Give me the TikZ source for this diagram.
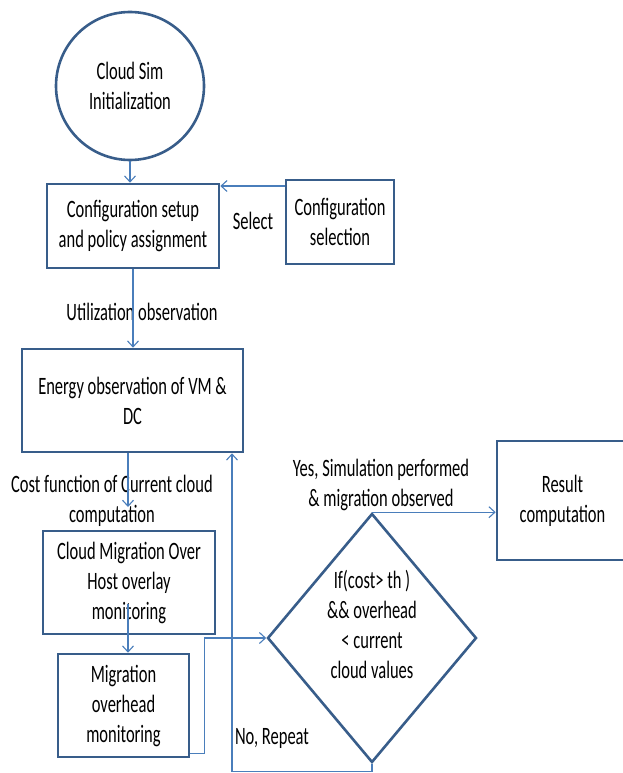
\documentclass[tikz,border=0pt]{standalone}
\usepackage{fontspec}
\setmainfont{Carlito}[FakeStretch=0.66]
\usetikzlibrary{arrows.meta,shapes.geometric}
\definecolor{boxc}{HTML}{385D8A}
\definecolor{conc}{HTML}{4A7EBB}
\newcommand{\myfont}{\fontsize{25}{30}\selectfont}
\tikzset{
  box/.style={draw=boxc, line width=2.6pt, inner sep=0pt, align=center, font=\myfont, text=black},
  conn/.style={draw=conc, line width=1.1pt, -{Straight Barb[length=6pt,width=11pt]}},
  lbl/.style={align=center, font=\myfont, inner sep=0pt, text=black}
}
\begin{document}
\begin{tikzpicture}[x=1pt,y=-1pt]
\useasboundingbox (0,0) rectangle (623,773);
\clip (0,0) rectangle (623,773);
% nodes
\node[box, circle, minimum size=148pt] (init) at (130,86) {Cloud Sim\\Initialization};
\node[box, minimum width=172pt, minimum height=84pt] (cfg) at (133,226) {Configuration setup\\and policy assignment};
\node[box, minimum width=108pt, minimum height=84pt] (sel) at (340,222) {Configuration\\selection};
\node[box, minimum width=221pt, minimum height=103pt] (en) at (132.5,400.5) {Energy observation of VM \&\\DC};
\node[box, minimum width=172pt, minimum height=103pt] (cmig) at (129,582.5) {Cloud Migration Over\\Host overlay\\monitoring};
\node[box, minimum width=131pt, minimum height=103pt] (mig) at (123.5,705.5) {Migration\\overhead\\monitoring};
\node[box, diamond, minimum width=209pt, minimum height=249pt] (dia) at (372,638) {};
\node[lbl] (diat) at (372,624) {If(cost> th )\\\&\& overhead\\< current\\cloud values};
\node[box, minimum width=131pt, minimum height=119pt] (res) at (562.5,500.5) {Result\\computation};
% labels
\node[lbl] (lsel) at (253,221) {Select};
\node[lbl] (lutil) at (142,312) {Utilization observation};
\node[lbl] (lcost) at (112,501) {Cost function of Current cloud\\computation};
\node[lbl] (lyes) at (381,485) {Yes, Simulation performed\\\& migration observed};
\node[lbl] (lno) at (272,738) {No, Repeat};
\coordinate (costend) at (128,507);
% connectors
\draw[conn] (init.south) -- (init.south |- cfg.north);
\draw[conn] ([yshift=36pt]sel.west) -- ([yshift=36pt]sel.west -| cfg.east);
\draw[conn] (cfg.south) -- (cfg.south |- en.north);
\draw[conn] ([xshift=-4.5pt]en.south) -- (costend);
\draw[conn] ([xshift=-1pt,yshift=31pt]cmig.south) -- ([xshift=4.5pt]mig.north);
\draw[conn] ([yshift=5pt]mig.south east) -- ++(14,0) |- (dia.west);
\draw[conn] (dia.north) -- (dia.north -| res.west);
\draw[conn] (dia.south) -- ++(0,8) -| ([xshift=99.5pt]en.south);
\end{tikzpicture}
\end{document}
